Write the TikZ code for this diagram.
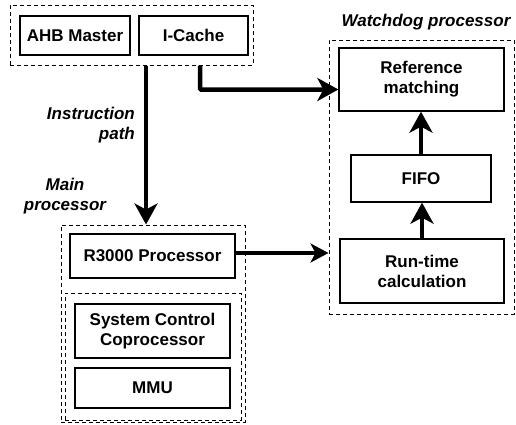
\documentclass[tikz,border=0pt]{standalone}
\usepackage{fontspec}
\setmainfont{Liberation Sans}
\usetikzlibrary{arrows.meta}
\begin{document}
\begin{tikzpicture}[x=1pt,y=-1pt,
  txt/.style={font=\fontsize{17}{20}\selectfont\bfseries, align=center},
  lbl/.style={font=\fontsize{17}{20}\selectfont\bfseries\itshape, inner sep=0pt},
  blk/.style={txt, draw, line width=1.3pt, fill=white, inner sep=0pt},
  grp/.style={draw, line width=1pt, dash pattern=on 4pt off 3pt, inner sep=0pt},
  bigflow/.style={line width=4.5pt, -{Stealth[length=21pt,width=23pt,inset=6pt]}},
  flow/.style={line width=3.2pt, -{Stealth[length=18pt,width=19pt,inset=5pt]}}]
\useasboundingbox (0,0) rectangle (516,424);

% bus interface group
\node[grp, minimum width=243pt, minimum height=60pt] (topdash) at (131.5,35) {};
\node[blk, minimum width=110pt, minimum height=39pt] (ahb) at (75,35.5) {AHB Master};
\node[blk, minimum width=109pt, minimum height=39pt] (icache) at (193.5,35.5) {I-Cache};

% watchdog side
\node[grp, minimum width=185pt, minimum height=274pt] (wddash) at (421.5,177) {};
\node[lbl] (wdlbl) at (426,22) {Watchdog processor};
\node[blk, minimum width=165pt, minimum height=63pt] (ref) at (421.5,79.5) {Reference\\matching};
\node[blk, minimum width=140pt, minimum height=47pt] (fifo) at (421,178.5) {FIFO};
\node[blk, minimum width=164pt, minimum height=64pt] (run) at (422,271) {Run-time\\calculation};

% main processor side
\node[grp, minimum width=184pt, minimum height=197pt] (maindash) at (153,323.5) {};
\node[blk, minimum width=165pt, minimum height=44pt] (r3000) at (152.5,256) {R3000 Processor};
\node[grp, minimum width=176pt, minimum height=127pt] (innerdash) at (153,356.5) {};
\node[blk, minimum width=155pt, minimum height=54pt] (sysctl) at (152.5,331) {System Control\\Coprocessor};
\node[blk, minimum width=155pt, minimum height=40pt] (mmu) at (152.5,388) {MMU};

% side labels
\node[lbl, anchor=east, align=right] (iplbl) at (135,125) {Instruction\\path};
\node[lbl, align=center] (mplbl) at (65,196) {Main\\processor};

% connectors
\draw[bigflow] ([xshift=14.5pt]topdash.south) -- ([xshift=-7pt]maindash.north);
\draw[bigflow, rounded corners=1pt] ([xshift=6.5pt]icache.south |- topdash.south) |- ([yshift=-10pt]ref.west);
\draw[flow] ([yshift=3pt]r3000.east) -- ([yshift=3pt]r3000.east -| wddash.west);
\draw[bigflow] (run.north) -- (run.north |- fifo.south);
\draw[bigflow] (fifo.north) -- (fifo.north |- ref.south);
\end{tikzpicture}
\end{document}
